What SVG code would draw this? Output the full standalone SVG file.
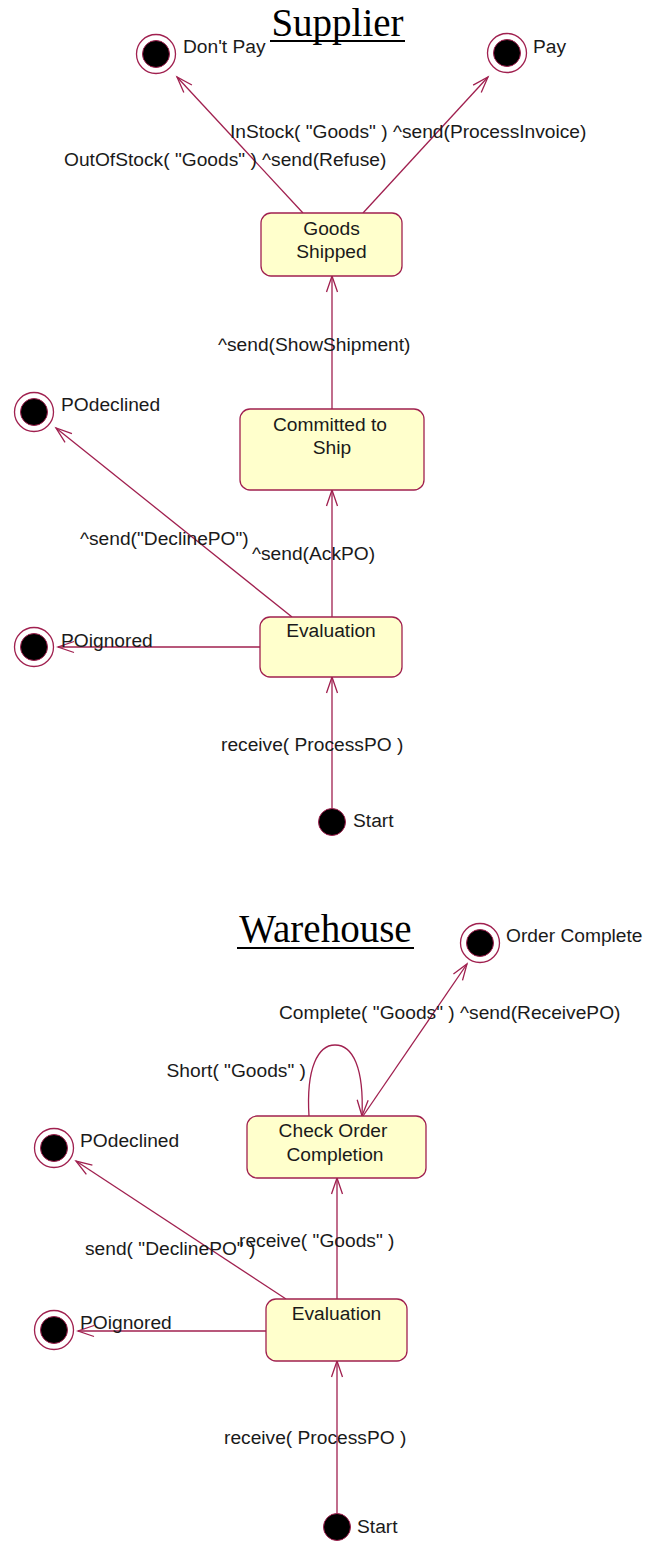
<svg xmlns="http://www.w3.org/2000/svg" width="658" height="1543" viewBox="0 0 658 1543">
<style>
.bg{fill:#ffffff}
.state{fill:#ffffcc;stroke:#a0204f;stroke-width:1.3}
.conn{fill:none;stroke:#a0204f;stroke-width:1.3}
.ring{fill:#ffffff;stroke:#a0204f;stroke-width:1.3}
.dot{fill:#000000;stroke:#a0204f;stroke-width:1}
.lbl{font-family:"Liberation Sans",Arial,sans-serif;font-size:19.2px;fill:#1a1a1a}
.ctr{text-anchor:middle}
.title{font-family:"Liberation Serif","Times New Roman",serif;font-size:39px;fill:#000000;text-anchor:middle}
.ul{stroke:#000000;stroke-width:2}
</style>
<defs>
<marker id="arr" markerUnits="userSpaceOnUse" viewBox="-18 -8 20 16" refX="0" refY="0" markerWidth="20" markerHeight="16" orient="auto" overflow="visible">
<path d="M-16,-5.5 L0,0 L-16,5.5" fill="none" stroke="#a0204f" stroke-width="1.3"/>
</marker>
</defs>
<rect class="bg" x="0" y="0" width="658" height="1543"/>

<g id="titles">
<text class="title" x="337.5" y="36">Supplier</text>
<line class="ul" x1="270" y1="41" x2="405" y2="41"/>
<text class="title" x="325.5" y="942">Warehouse</text>
<line class="ul" x1="237" y1="948" x2="414" y2="948"/>
</g>

<g id="connectors">
<line class="conn" x1="303" y1="213" x2="177" y2="77" marker-end="url(#arr)"/>
<line class="conn" x1="363" y1="213" x2="488" y2="77" marker-end="url(#arr)"/>
<line class="conn" x1="332" y1="409" x2="332" y2="276" marker-end="url(#arr)"/>
<line class="conn" x1="332" y1="617" x2="332" y2="490" marker-end="url(#arr)"/>
<line class="conn" x1="292" y1="617" x2="56" y2="428" marker-end="url(#arr)"/>
<line class="conn" x1="260" y1="647" x2="58" y2="647" marker-end="url(#arr)"/>
<line class="conn" x1="332" y1="808" x2="332" y2="677" marker-end="url(#arr)"/>

<line class="conn" x1="363" y1="1116" x2="467" y2="964" marker-end="url(#arr)"/>
<path class="conn" d="M309,1116 C306,1068 318,1045 335,1045 C353,1045 364,1068 362,1116" marker-end="url(#arr)"/>
<line class="conn" x1="337" y1="1299" x2="337" y2="1178" marker-end="url(#arr)"/>
<line class="conn" x1="286" y1="1299" x2="76" y2="1161" marker-end="url(#arr)"/>
<line class="conn" x1="266" y1="1331" x2="78" y2="1331" marker-end="url(#arr)"/>
<line class="conn" x1="337" y1="1513" x2="337" y2="1361" marker-end="url(#arr)"/>
</g>

<g id="connector-labels">
<text class="lbl" x="230" y="138">InStock( "Goods" ) ^send(ProcessInvoice)</text>
<text class="lbl" x="64" y="166">OutOfStock( "Goods" ) ^send(Refuse)</text>
<text class="lbl" x="218" y="351">^send(ShowShipment)</text>
<text class="lbl" x="80" y="545">^send("DeclinePO")</text>
<text class="lbl" x="252" y="560">^send(AckPO)</text>
<text class="lbl" x="221" y="751">receive( ProcessPO )</text>
<text class="lbl" x="279" y="1019">Complete( "Goods" ) ^send(ReceivePO)</text>
<text class="lbl" x="306" y="1077" text-anchor="end">Short( "Goods" )</text>
<text class="lbl" x="85" y="1255">send( "DeclinePO" )</text>
<text class="lbl" x="239" y="1247">receive( "Goods" )</text>
<text class="lbl" x="224" y="1444">receive( ProcessPO )</text>
</g>

<g id="s-dontpay">
<circle class="ring" cx="156" cy="54" r="19.5"/>
<circle class="dot" cx="156" cy="54" r="13.5"/>
<text class="lbl" x="183" y="53">Don't Pay</text>
</g>
<g id="s-pay">
<circle class="ring" cx="507" cy="53" r="19.5"/>
<circle class="dot" cx="507" cy="53" r="13.5"/>
<text class="lbl" x="533" y="53">Pay</text>
</g>
<g id="s-goods-shipped">
<rect class="state" x="261" y="213" width="141" height="63" rx="10" ry="10"/>
<text class="lbl ctr" x="331.5" y="235">Goods</text>
<text class="lbl ctr" x="331.5" y="258">Shipped</text>
</g>
<g id="s-committed">
<rect class="state" x="240" y="409" width="184" height="81" rx="10" ry="10"/>
<text class="lbl ctr" x="330" y="431">Committed to</text>
<text class="lbl ctr" x="332" y="454">Ship</text>
</g>
<g id="s-podeclined">
<circle class="ring" cx="34" cy="412" r="19.5"/>
<circle class="dot" cx="34" cy="412" r="13.5"/>
<text class="lbl" x="61" y="411">POdeclined</text>
</g>
<g id="s-evaluation">
<rect class="state" x="260" y="617" width="142" height="60" rx="10" ry="10"/>
<text class="lbl ctr" x="331" y="637">Evaluation</text>
</g>
<g id="s-poignored">
<circle class="ring" cx="34" cy="647" r="19.5"/>
<circle class="dot" cx="34" cy="647" r="13.5"/>
<text class="lbl" x="61" y="647">POignored</text>
</g>
<g id="s-start">
<circle class="dot" cx="332" cy="822" r="13.5"/>
<text class="lbl" x="353" y="827">Start</text>
</g>

<g id="w-ordercomplete">
<circle class="ring" cx="480" cy="943" r="19.5"/>
<circle class="dot" cx="480" cy="943" r="13.5"/>
<text class="lbl" x="506" y="942">Order Complete</text>
</g>
<g id="w-checkorder">
<rect class="state" x="247" y="1116" width="179" height="62" rx="10" ry="10"/>
<text class="lbl ctr" x="333" y="1137">Check Order</text>
<text class="lbl ctr" x="335" y="1161">Completion</text>
</g>
<g id="w-podeclined">
<circle class="ring" cx="54" cy="1148" r="19.5"/>
<circle class="dot" cx="54" cy="1148" r="13.5"/>
<text class="lbl" x="80" y="1147">POdeclined</text>
</g>
<g id="w-evaluation">
<rect class="state" x="266" y="1299" width="141" height="62" rx="10" ry="10"/>
<text class="lbl ctr" x="336.5" y="1320">Evaluation</text>
</g>
<g id="w-poignored">
<circle class="ring" cx="54" cy="1330" r="19.5"/>
<circle class="dot" cx="54" cy="1330" r="13.5"/>
<text class="lbl" x="80" y="1329">POignored</text>
</g>
<g id="w-start">
<circle class="dot" cx="337" cy="1527" r="13.5"/>
<text class="lbl" x="357" y="1533">Start</text>
</g>
</svg>
